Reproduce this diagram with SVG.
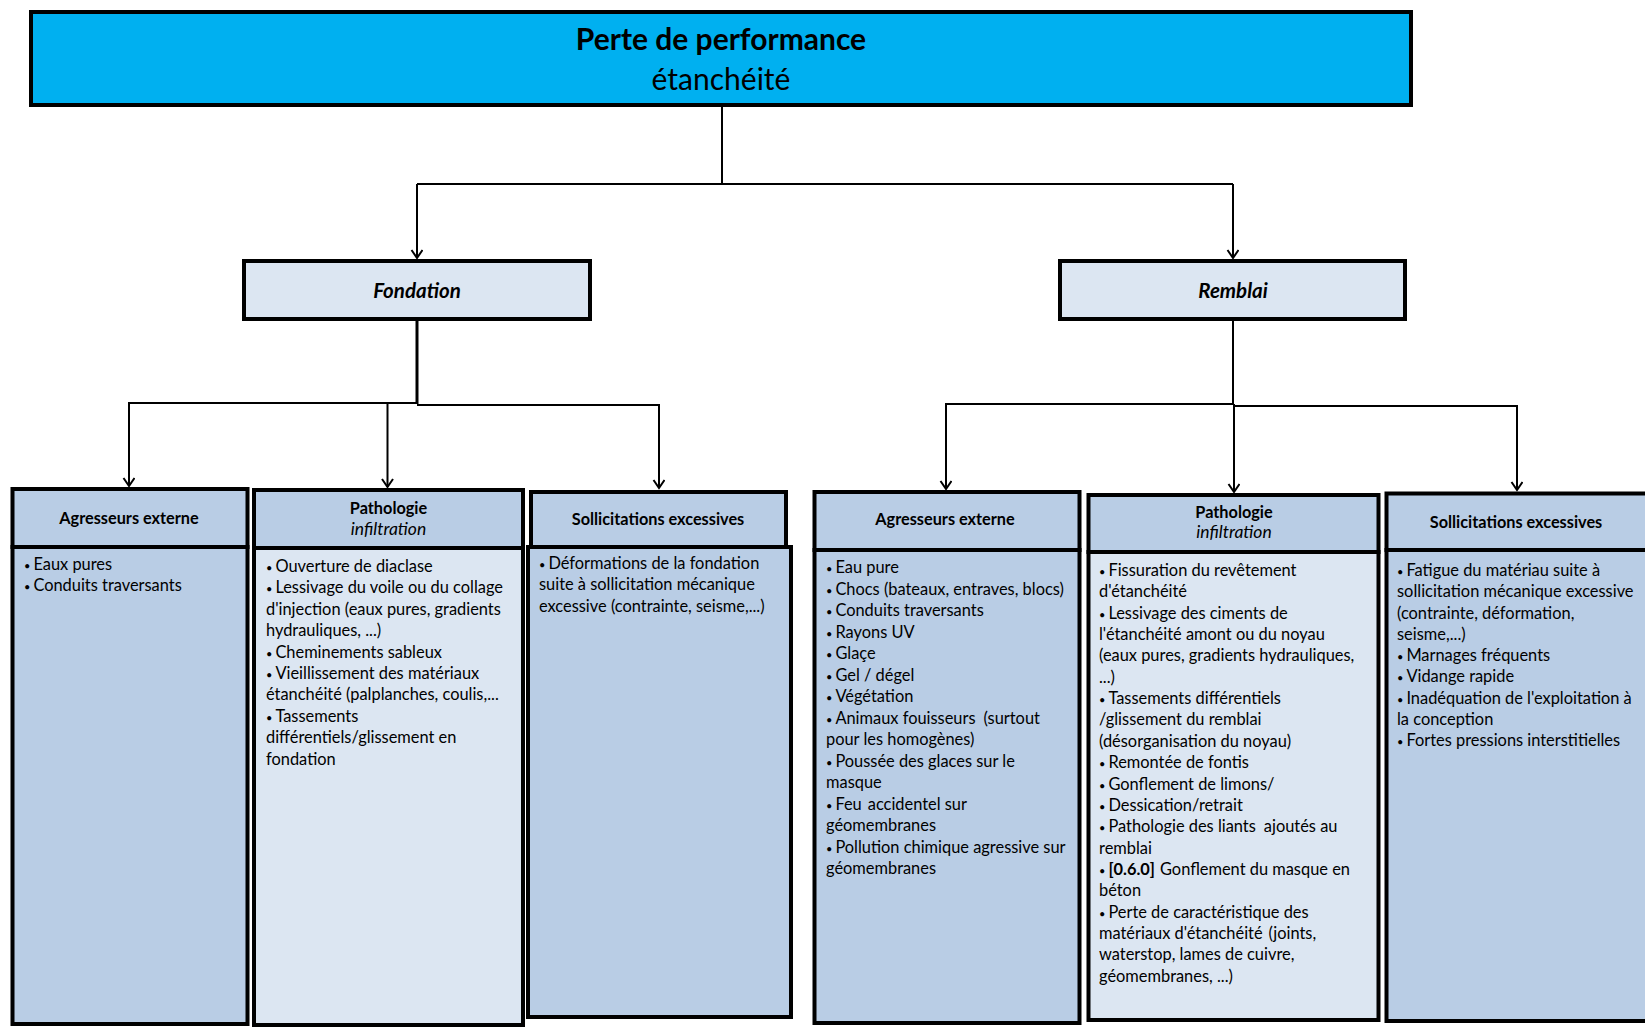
<svg xmlns="http://www.w3.org/2000/svg" width="1645" height="1029" viewBox="0 0 1645 1029">
<style>
.box{stroke:#000;stroke-width:4}
.top{fill:#00B0F0}
.mid{fill:#DCE6F2}
.hd{fill:#B9CDE5}
.dark{fill:#B9CDE5}
.light{fill:#DCE6F2}
text{font-family:Lato,"Open Sans","Liberation Sans",sans-serif;fill:#000}
.t1{font-size:30px;font-weight:bold;text-anchor:middle}
.t2{font-size:30px;text-anchor:middle}
.t3{font-size:20.5px;font-weight:bold;font-style:italic;text-anchor:middle}
.h{font-size:16.3px;font-weight:bold;text-anchor:middle}
.hi{font-size:17.5px;font-style:italic;text-anchor:middle}
.b{font-size:16.4px}
.bu{font-size:11px}
.c{fill:none;stroke:#000;stroke-width:2}
</style>
<defs>
<marker id="arr" markerUnits="userSpaceOnUse" markerWidth="14" markerHeight="14" refX="9" refY="6" orient="auto" viewBox="0 0 14 14">
<path d="M1,0.5 L9,6 L1,11.5" fill="none" stroke="#000" stroke-width="2"/>
</marker>
</defs>
<rect width="1645" height="1029" fill="#fff"/>

<g id="connectors">
<path class="c" d="M722,107 V184"/>
<path class="c" d="M417,184 H1233"/>
<path class="c" d="M417,184 V258" marker-end="url(#arr)"/>
<path class="c" d="M1233,184 V258" marker-end="url(#arr)"/>
<path class="c" d="M417,320 V404" style="stroke-width:3"/>
<path class="c" d="M417,403 H129 V486" marker-end="url(#arr)"/>
<path class="c" d="M387.5,403 V487" marker-end="url(#arr)"/>
<path class="c" d="M417,405 H659 V488" marker-end="url(#arr)"/>
<path class="c" d="M1233,320 V405"/>
<path class="c" d="M1233,404 H946 V489" marker-end="url(#arr)"/>
<path class="c" d="M1234,404 V492" marker-end="url(#arr)"/>
<path class="c" d="M1233,406 H1517 V490" marker-end="url(#arr)"/>
</g>

<g id="n-top">
<rect class="box top" x="31" y="12" width="1380" height="93"/>
<text class="t1" x="721" y="50">Perte de performance</text>
<text class="t2" x="721" y="90">étanchéité</text>
</g>

<g id="n-fondation">
<rect class="box mid" x="244" y="261" width="346" height="58"/>
<text class="t3" x="417" y="298">Fondation</text>
</g>

<g id="n-remblai">
<rect class="box mid" x="1060" y="261" width="345" height="58"/>
<text class="t3" x="1233" y="298">Remblai</text>
</g>

<g id="n-f-agresseurs">
<rect class="box dark" x="12.5" y="547" width="235" height="477"/>
<rect class="box hd" x="12.5" y="489" width="235" height="58"/>
<text class="h" x="129" y="524">Agresseurs externe</text>
<text class="b" y="570"><tspan x="24"><tspan class="bu">•</tspan><tspan dx="3">Eaux pures</tspan></tspan><tspan x="24" dy="21.4"><tspan class="bu">•</tspan><tspan dx="3">Conduits traversants</tspan></tspan></text>
</g>

<g id="n-f-pathologie">
<rect class="box light" x="254" y="548" width="269" height="477"/>
<rect class="box hd" x="254" y="490" width="269" height="58"/>
<text class="h" x="388.5" y="514">Pathologie</text>
<text class="hi" x="388.5" y="535">infiltration</text>
<text class="b" y="572"><tspan x="266"><tspan class="bu">•</tspan><tspan dx="3">Ouverture de diaclase</tspan></tspan><tspan x="266" dy="21.4"><tspan class="bu">•</tspan><tspan dx="3">Lessivage du voile ou du collage</tspan></tspan><tspan x="266" dy="21.4">d'injection (eaux pures, gradients</tspan><tspan x="266" dy="21.4">hydrauliques, ...)</tspan><tspan x="266" dy="21.4"><tspan class="bu">•</tspan><tspan dx="3">Cheminements sableux</tspan></tspan><tspan x="266" dy="21.4"><tspan class="bu">•</tspan><tspan dx="3">Vieillissement des matériaux</tspan></tspan><tspan x="266" dy="21.4">étanchéité (palplanches, coulis,...</tspan><tspan x="266" dy="21.4"><tspan class="bu">•</tspan><tspan dx="3">Tassements</tspan></tspan><tspan x="266" dy="21.4">différentiels/glissement en</tspan><tspan x="266" dy="21.4">fondation</tspan></text>
</g>

<g id="n-f-sollicitations">
<rect class="box dark" x="528" y="547" width="263" height="470"/>
<rect class="box hd" x="531" y="492" width="255" height="55"/>
<text class="h" x="658" y="525">Sollicitations excessives</text>
<text class="b" y="569"><tspan x="539"><tspan class="bu">•</tspan><tspan dx="3">Déformations de la fondation</tspan></tspan><tspan x="539" dy="21.4">suite à sollicitation mécanique</tspan><tspan x="539" dy="21.4">excessive (contrainte, seisme,...)</tspan></text>
</g>

<g id="n-r-agresseurs">
<rect class="box dark" x="814.5" y="550" width="265" height="473"/>
<rect class="box hd" x="814.5" y="492" width="265" height="58"/>
<text class="h" x="945" y="525">Agresseurs externe</text>
<text class="b" y="573"><tspan x="826"><tspan class="bu">•</tspan><tspan dx="3">Eau pure</tspan></tspan><tspan x="826" dy="21.5"><tspan class="bu">•</tspan><tspan dx="3">Chocs (bateaux, entraves, blocs)</tspan></tspan><tspan x="826" dy="21.5"><tspan class="bu">•</tspan><tspan dx="3">Conduits traversants</tspan></tspan><tspan x="826" dy="21.5"><tspan class="bu">•</tspan><tspan dx="3">Rayons UV</tspan></tspan><tspan x="826" dy="21.5"><tspan class="bu">•</tspan><tspan dx="3">Glaçe</tspan></tspan><tspan x="826" dy="21.5"><tspan class="bu">•</tspan><tspan dx="3">Gel / dégel</tspan></tspan><tspan x="826" dy="21.5"><tspan class="bu">•</tspan><tspan dx="3">Végétation</tspan></tspan><tspan x="826" dy="21.5"><tspan class="bu">•</tspan><tspan dx="3">Animaux fouisseurs</tspan><tspan dx="8">(surtout</tspan></tspan><tspan x="826" dy="21.5">pour les homogènes)</tspan><tspan x="826" dy="21.5"><tspan class="bu">•</tspan><tspan dx="3">Poussée des glaces sur le</tspan></tspan><tspan x="826" dy="21.5">masque</tspan><tspan x="826" dy="21.5"><tspan class="bu">•</tspan><tspan dx="3">Feu</tspan><tspan dx="6">accidentel sur</tspan></tspan><tspan x="826" dy="21.5">géomembranes</tspan><tspan x="826" dy="21.5"><tspan class="bu">•</tspan><tspan dx="3">Pollution chimique agressive sur</tspan></tspan><tspan x="826" dy="21.5">géomembranes</tspan></text>
</g>

<g id="n-r-pathologie">
<rect class="box light" x="1088.5" y="552" width="290" height="468"/>
<rect class="box hd" x="1088.5" y="495" width="290" height="57"/>
<text class="h" x="1234" y="518">Pathologie</text>
<text class="hi" x="1234" y="538">infiltration</text>
<text class="b" y="576"><tspan x="1099"><tspan class="bu">•</tspan><tspan dx="3">Fissuration du revêtement</tspan></tspan><tspan x="1099" dy="21.35">d'étanchéité</tspan><tspan x="1099" dy="21.35"><tspan class="bu">•</tspan><tspan dx="3">Lessivage des ciments de</tspan></tspan><tspan x="1099" dy="21.35">l'étanchéité amont ou du noyau</tspan><tspan x="1099" dy="21.35">(eaux pures, gradients hydrauliques,</tspan><tspan x="1099" dy="21.35">...)</tspan><tspan x="1099" dy="21.35"><tspan class="bu">•</tspan><tspan dx="3">Tassements différentiels</tspan></tspan><tspan x="1099" dy="21.35">/glissement du remblai</tspan><tspan x="1099" dy="21.35">(désorganisation du noyau)</tspan><tspan x="1099" dy="21.35"><tspan class="bu">•</tspan><tspan dx="3">Remontée de fontis</tspan></tspan><tspan x="1099" dy="21.35"><tspan class="bu">•</tspan><tspan dx="3">Gonflement de limons/</tspan></tspan><tspan x="1099" dy="21.35"><tspan class="bu">•</tspan><tspan dx="3">Dessication/retrait</tspan></tspan><tspan x="1099" dy="21.35"><tspan class="bu">•</tspan><tspan dx="3">Pathologie des liants</tspan><tspan dx="8">ajoutés au</tspan></tspan><tspan x="1099" dy="21.35">remblai</tspan><tspan x="1099" dy="21.35"><tspan class="bu">•</tspan><tspan dx="3" font-weight="bold">[0.6.0]</tspan><tspan dx="5">Gonflement du masque en</tspan></tspan><tspan x="1099" dy="21.35">béton</tspan><tspan x="1099" dy="21.35"><tspan class="bu">•</tspan><tspan dx="3">Perte de caractéristique des</tspan></tspan><tspan x="1099" dy="21.35">matériaux d'étanchéité</tspan><tspan dx="6">(joints,</tspan><tspan x="1099" dy="21.35">waterstop, lames de cuivre,</tspan><tspan x="1099" dy="21.35">géomembranes, ...)</tspan></text>
</g>

<g id="n-r-sollicitations">
<rect class="box dark" x="1386.5" y="550" width="270" height="471"/>
<rect class="box hd" x="1386.5" y="493.5" width="270" height="56.5"/>
<text class="h" x="1516" y="528">Sollicitations excessives</text>
<text class="b" y="576"><tspan x="1397"><tspan class="bu">•</tspan><tspan dx="3">Fatigue du matériau suite à</tspan></tspan><tspan x="1397" dy="21.25">sollicitation mécanique excessive</tspan><tspan x="1397" dy="21.25">(contrainte, déformation,</tspan><tspan x="1397" dy="21.25">seisme,...)</tspan><tspan x="1397" dy="21.25"><tspan class="bu">•</tspan><tspan dx="3">Marnages fréquents</tspan></tspan><tspan x="1397" dy="21.25"><tspan class="bu">•</tspan><tspan dx="3">Vidange rapide</tspan></tspan><tspan x="1397" dy="21.25"><tspan class="bu">•</tspan><tspan dx="3">Inadéquation de l'exploitation à</tspan></tspan><tspan x="1397" dy="21.25">la conception</tspan><tspan x="1397" dy="21.25"><tspan class="bu">•</tspan><tspan dx="3">Fortes pressions interstitielles</tspan></tspan></text>
</g>
</svg>
